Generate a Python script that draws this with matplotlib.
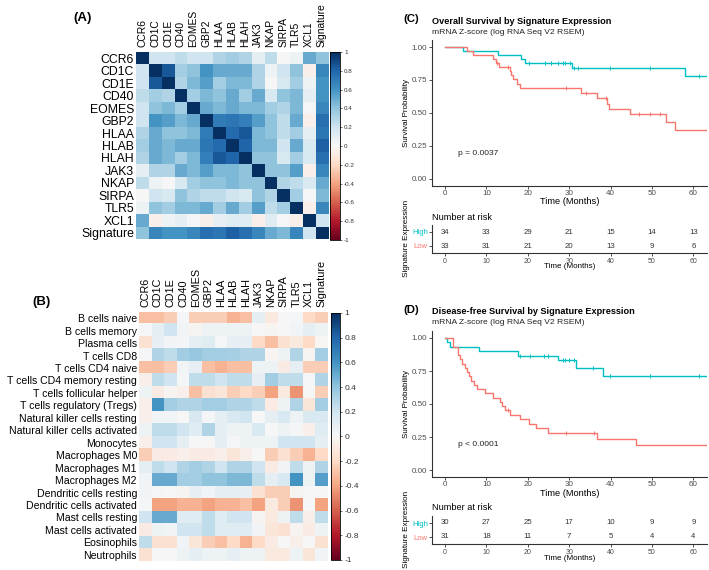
import numpy as np
import matplotlib
matplotlib.use("Agg")
import matplotlib.pyplot as plt

plt.rcParams['font.family'] = ['Liberation Sans', 'DejaVu Sans']

W, H = 709, 570

genes = ["CCR6", "CD1C", "CD1E", "CD40", "EOMES", "GBP2", "HLAA", "HLAB",
         "HLAH", "JAK3", "NKAP", "SIRPA", "TLR5", "XCL1", "Signature"]

corr_genes = np.array([
    [1.00, 0.20, 0.20, 0.25, 0.20, 0.20, 0.30, 0.35, 0.30, 0.10, 0.25, 0.00, 0.05, 0.50, 0.40],
    [0.20, 1.00, 0.85, 0.35, 0.40, 0.60, 0.50, 0.50, 0.50, 0.30, 0.05, 0.20, 0.40, -0.05, 0.65],
    [0.20, 0.85, 1.00, 0.30, 0.45, 0.55, 0.35, 0.45, 0.45, 0.30, 0.00, 0.15, 0.35, 0.05, 0.60],
    [0.25, 0.35, 0.30, 1.00, 0.35, 0.45, 0.40, 0.50, 0.35, 0.50, 0.15, 0.40, 0.45, 0.10, 0.60],
    [0.20, 0.40, 0.45, 0.35, 1.00, 0.50, 0.45, 0.50, 0.45, 0.45, 0.35, 0.30, 0.45, 0.02, 0.65],
    [0.20, 0.60, 0.55, 0.45, 0.50, 1.00, 0.70, 0.72, 0.68, 0.55, 0.40, 0.25, 0.50, -0.05, 0.75],
    [0.30, 0.50, 0.40, 0.40, 0.45, 0.70, 1.00, 0.78, 0.85, 0.45, 0.40, 0.25, 0.35, 0.10, 0.72],
    [0.35, 0.50, 0.45, 0.50, 0.50, 0.72, 0.78, 1.00, 0.80, 0.45, 0.45, 0.20, 0.50, 0.15, 0.82],
    [0.30, 0.50, 0.45, 0.35, 0.45, 0.68, 0.85, 0.80, 1.00, 0.40, 0.40, 0.15, 0.35, 0.15, 0.75],
    [0.10, 0.30, 0.30, 0.50, 0.45, 0.55, 0.45, 0.45, 0.40, 1.00, 0.40, 0.40, 0.55, -0.05, 0.65],
    [0.25, 0.05, 0.00, 0.15, 0.35, 0.40, 0.40, 0.45, 0.40, 0.40, 1.00, 0.30, 0.25, 0.15, 0.50],
    [0.00, 0.20, 0.15, 0.40, 0.30, 0.25, 0.25, 0.20, 0.15, 0.40, 0.30, 1.00, 0.35, 0.02, 0.45],
    [0.05, 0.40, 0.35, 0.45, 0.45, 0.50, 0.35, 0.50, 0.35, 0.55, 0.25, 0.35, 1.00, -0.05, 0.65],
    [0.50, -0.05, 0.05, 0.10, 0.02, -0.05, 0.08, 0.12, 0.12, -0.05, 0.12, 0.02, -0.05, 1.00, 0.20],
    [0.40, 0.65, 0.60, 0.60, 0.65, 0.75, 0.72, 0.82, 0.75, 0.65, 0.50, 0.45, 0.65, 0.20, 1.00],
])

cells = ["B cells naive", "B cells memory", "Plasma cells", "T cells CD8",
         "T cells CD4 naive", "T cells CD4 memory resting",
         "T cells follicular helper", "T cells regulatory (Tregs)",
         "Natural killer cells resting", "Natural killer cells activated",
         "Monocytes", "Macrophages M0", "Macrophages M1", "Macrophages M2",
         "Dendritic cells resting", "Dendritic cells activated",
         "Mast cells resting", "Mast cells activated", "Eosinophils", "Neutrophils"]

corr_cells = np.array([
    [-0.30, -0.30, -0.25, 0.02, -0.25, -0.25, -0.25, -0.35, -0.30, 0.10, -0.10, 0.00, 0.02, -0.20, -0.25],
    [0.02, 0.10, 0.20, 0.03, -0.03, 0.05, 0.05, 0.05, 0.05, 0.00, -0.03, 0.00, 0.03, 0.10, 0.05],
    [-0.15, 0.08, 0.03, 0.02, 0.10, 0.12, 0.02, 0.08, 0.08, -0.20, -0.30, -0.15, -0.10, -0.20, -0.02],
    [0.02, 0.30, 0.25, 0.35, 0.38, 0.35, 0.35, 0.33, 0.30, 0.30, -0.02, 0.05, 0.30, -0.03, 0.35],
    [-0.30, -0.30, -0.25, 0.03, 0.08, -0.30, -0.35, -0.30, -0.30, 0.05, 0.05, -0.08, 0.10, -0.25, -0.25],
    [-0.05, 0.25, 0.20, 0.02, 0.25, 0.25, 0.20, 0.25, 0.25, 0.08, 0.35, 0.25, 0.25, 0.02, 0.30],
    [0.05, -0.08, -0.03, -0.05, -0.30, -0.15, -0.12, -0.25, -0.20, -0.25, -0.40, -0.10, -0.45, 0.00, -0.25],
    [-0.05, 0.60, 0.35, 0.30, 0.30, 0.35, 0.35, 0.30, 0.30, 0.25, -0.08, 0.05, 0.30, -0.12, 0.35],
    [-0.05, 0.03, 0.03, 0.00, 0.15, 0.02, 0.10, 0.15, 0.20, 0.00, 0.10, 0.15, 0.05, 0.15, 0.15],
    [0.05, 0.25, 0.25, 0.20, 0.12, 0.30, 0.10, 0.05, 0.05, 0.15, 0.00, 0.05, 0.02, -0.05, 0.12],
    [-0.05, 0.20, 0.20, 0.10, 0.00, 0.00, 0.10, 0.02, 0.05, 0.05, 0.05, 0.20, 0.20, 0.20, 0.10],
    [-0.25, -0.08, -0.08, -0.05, -0.08, -0.08, -0.05, -0.12, -0.05, 0.00, -0.25, -0.15, -0.25, -0.35, -0.20],
    [0.10, 0.25, 0.20, 0.30, 0.35, 0.30, 0.20, 0.30, 0.30, 0.20, -0.08, 0.03, 0.25, 0.05, 0.30],
    [0.03, 0.50, 0.50, 0.35, 0.35, 0.40, 0.40, 0.45, 0.45, 0.25, 0.10, 0.15, 0.60, 0.05, 0.55],
    [0.03, 0.02, 0.00, -0.03, 0.08, 0.03, 0.10, 0.10, 0.08, -0.15, -0.25, -0.25, -0.03, 0.00, 0.00],
    [0.02, -0.40, -0.40, -0.35, -0.35, -0.40, -0.35, -0.35, -0.30, -0.40, -0.10, -0.25, -0.45, 0.00, -0.40],
    [0.20, 0.50, 0.50, 0.12, 0.12, 0.25, 0.12, 0.20, 0.20, -0.03, -0.10, 0.05, 0.25, -0.05, 0.25],
    [-0.08, 0.05, 0.03, 0.20, 0.20, 0.25, 0.12, 0.12, 0.12, 0.03, -0.12, -0.15, -0.03, -0.08, 0.05],
    [0.25, -0.15, -0.15, 0.03, -0.12, -0.25, -0.30, -0.20, -0.35, -0.20, -0.08, 0.00, -0.05, 0.00, -0.15],
    [-0.15, 0.00, 0.00, 0.05, 0.10, 0.05, 0.05, 0.08, 0.05, 0.05, -0.10, -0.10, 0.05, -0.12, 0.03],
])

cbar_ticks = [-1, -0.8, -0.6, -0.4, -0.2, 0, 0.2, 0.4, 0.6, 0.8, 1]
cbar_labels = ["-1", "-0.8", "-0.6", "-0.4", "-0.2", "0", "0.2", "0.4", "0.6", "0.8", "1"]

# Kaplan-Meier steps (time in months, survival)
os_high_t = [0, 4.3, 12.7, 18.4, 19.4, 30.7, 57.9, 63.3]
os_high_s = [1.0, 0.97, 0.94, 0.91, 0.88, 0.84, 0.78, 0.78]
os_high_cens = [20.4, 24.1, 25.5, 27.3, 28.5, 28.9, 30.1, 31.1, 32.1, 39.8, 49.5, 61.3]
os_low_t = [0, 5.3, 6.8, 11.5, 12.2, 13.0, 15.6, 16.0, 16.5, 17.5, 18.2,
            32.8, 36.6, 39.2, 39.7, 44.8, 53.5, 55.5, 63.3]
os_low_s = [1.0, 0.97, 0.94, 0.91, 0.88, 0.85, 0.82, 0.79, 0.76, 0.72, 0.69,
            0.655, 0.61, 0.57, 0.53, 0.49, 0.43, 0.37, 0.37]
os_low_cens = [12.5, 15.2, 29.3, 34.1, 39.0, 46.8, 49.5, 51.9]

dfs_high_t = [0, 0.5, 1.1, 8.3, 17.7, 27.4, 31.6, 38.1, 63.3]
dfs_high_s = [1.0, 0.967, 0.933, 0.90, 0.867, 0.83, 0.775, 0.715, 0.715]
dfs_high_cens = [18.1, 20.5, 23.8, 24.8, 28.5, 28.9, 29.9, 31.1, 35.8, 39.8, 49.5, 61.3]
dfs_low_t = [0, 1.9, 3.2, 3.6, 4.0, 4.8, 5.3, 5.9, 6.2, 6.9, 7.8, 9.7, 11.5, 13.2,
             13.7, 14.5, 15.7, 18.0, 20.4, 21.9, 25.0, 36.7, 46.2, 63.3]
dfs_low_s = [1.0, 0.935, 0.871, 0.839, 0.806, 0.774, 0.742, 0.71, 0.677, 0.645, 0.613,
             0.581, 0.548, 0.516, 0.484, 0.452, 0.42, 0.387, 0.35, 0.315, 0.28, 0.233,
             0.187, 0.187]
dfs_low_cens = [15.2, 29.2, 36.1]

risk_times = [0, 10, 20, 30, 40, 50, 60]
os_risk_high = [34, 33, 29, 21, 15, 14, 13]
os_risk_low = [33, 31, 21, 20, 13, 9, 6]
dfs_risk_high = [30, 27, 25, 17, 10, 9, 9]
dfs_risk_low = [31, 18, 11, 7, 5, 4, 4]

HIGH_COL = "#00BFC4"
LOW_COL = "#F8766D"


def rect(l, t, r, b):
    return [l / W, 1 - b / H, (r - l) / W, (b - t) / H]


def fx(x):
    return x / W


def fy(y):
    return 1 - y / H


fig = plt.figure(figsize=(W / 100, H / 100), dpi=100)


def heatmap(box, cbox, mat, rows, cols, row_fs, col_fs, cb_fs):
    ax = fig.add_axes(rect(*box))
    im = ax.imshow(mat, cmap="RdBu", vmin=-1, vmax=1, aspect="auto",
                   interpolation="nearest")
    ax.set_xticks(range(len(cols)))
    ax.set_xticklabels(cols, rotation=90, fontsize=col_fs)
    ax.xaxis.tick_top()
    ax.set_yticks(range(len(rows)))
    ax.set_yticklabels(rows, fontsize=row_fs)
    ax.tick_params(axis="y", length=0, pad=1.5)
    ax.tick_params(axis="x", length=0, pad=3.5)
    for s in ax.spines.values():
        s.set_visible(False)
    cax = fig.add_axes(rect(*cbox))
    cb = fig.colorbar(im, cax=cax, ticks=cbar_ticks)
    cb.ax.set_yticklabels(cbar_labels, fontsize=cb_fs, color="#333333")
    cb.ax.tick_params(length=1.5, width=0.4, pad=1.5)
    cb.outline.set_linewidth(0.6)


heatmap((136, 52, 328, 239), (330, 52, 340, 240), corr_genes, genes, genes, 8.8, 7.4, 4.5)
fig.text(fx(73), fy(18), "(A)", fontsize=9.5, fontweight="bold", va="center")

heatmap((139, 312, 328, 561), (331, 313, 340, 560), corr_cells, cells, genes, 7.6, 7.8, 6)
fig.text(fx(32), fy(302), "(B)", fontsize=9.5, fontweight="bold", va="center")


def step_at(t, s, c):
    i = np.searchsorted(t, c, side="right") - 1
    return np.asarray(s)[i]


def km_panel(dy, tag, title, pval, curves, risk_high, risk_low):
    ax = fig.add_axes(rect(432, 40.4 + dy, 707, 185.6 + dy))
    for t, s, cens, col in curves:
        ax.step(t, s, where="post", color=col, lw=1.0)
        ax.plot(cens, step_at(t, s, cens), ls="none", marker="|", ms=3.5,
                mew=0.7, color=col)
    ax.set_xlim(-3.15, 63.3)
    ax.set_ylim(-0.05, 1.05)
    ax.set_yticks([0, 0.25, 0.5, 0.75, 1.0])
    ax.set_yticklabels(["0.00", "0.25", "0.50", "0.75", "1.00"])
    ax.set_xticks(risk_times)
    for s in ["top", "right"]:
        ax.spines[s].set_visible(False)
    for s in ["left", "bottom"]:
        ax.spines[s].set_linewidth(0.8)
        ax.spines[s].set_color("#333333")
    ax.tick_params(labelsize=5.8, labelcolor="#4D4D4D", length=2, width=0.6,
                   color="#333333", pad=1.5)
    ax.text(3.1, 0.19, pval, fontsize=6, va="center", color="#222222")
    fig.text(fx(569.5), fy(202 + dy), "Time (Months)", fontsize=6.7,
             ha="center", va="center")
    fig.text(fx(406), fy(112.5 + dy), "Survival Probability", fontsize=5.8,
             rotation=90, ha="center", va="center")
    fig.text(fx(403), fy(19 + dy), tag, fontsize=8.2, fontweight="bold", va="center")
    fig.text(fx(432), fy(21 + dy), title, fontsize=6.6, fontweight="bold", va="center")
    fig.text(fx(432), fy(32 + dy), "mRNA Z-score (log RNA Seq V2 RSEM)",
             fontsize=6.1, va="center", color="#222222")

    tb = fig.add_axes(rect(432, 225 + dy, 707, 253 + dy))
    tb.set_xlim(-3.15, 63.3)
    tb.set_ylim(-0.5, 1.5)
    for x, nh, nl in zip(risk_times, risk_high, risk_low):
        tb.text(x, 1, str(nh), fontsize=5.6, ha="center", va="center", color="#333333")
        tb.text(x, 0, str(nl), fontsize=5.6, ha="center", va="center", color="#333333")
    tb.set_xticks(risk_times)
    tb.set_yticks([1, 0])
    tb.set_yticklabels(["High", "Low"])
    for lab, col in zip(tb.get_yticklabels(), [HIGH_COL, LOW_COL]):
        lab.set_color(col)
    for s in ["top", "right"]:
        tb.spines[s].set_visible(False)
    for s in ["left", "bottom"]:
        tb.spines[s].set_linewidth(0.8)
        tb.spines[s].set_color("#333333")
    tb.tick_params(axis="x", labelsize=5, labelcolor="#4D4D4D", length=2,
                   width=0.6, color="#333333", pad=1.5)
    tb.tick_params(axis="y", labelsize=5.5, length=2, width=0.6, color="#333333", pad=1)
    fig.text(fx(432), fy(217 + dy), "Number at risk", fontsize=6.6, va="center")
    fig.text(fx(569.5), fy(267 + dy), "Time (Months)", fontsize=5.8,
             ha="center", va="center")
    fig.text(fx(406), fy(238 + dy), "Signature Expression", fontsize=5.9,
             rotation=90, ha="center", va="center")


km_panel(0, "(C)", "Overall Survival by Signature Expression", "p = 0.0037",
         [(os_high_t, os_high_s, os_high_cens, HIGH_COL),
          (os_low_t, os_low_s, os_low_cens, LOW_COL)],
         os_risk_high, os_risk_low)

km_panel(291, "(D)", "Disease-free Survival by Signature Expression", "p < 0.0001",
         [(dfs_high_t, dfs_high_s, dfs_high_cens, HIGH_COL),
          (dfs_low_t, dfs_low_s, dfs_low_cens, LOW_COL)],
         dfs_risk_high, dfs_risk_low)

fig.savefig("out.png", dpi=100)
